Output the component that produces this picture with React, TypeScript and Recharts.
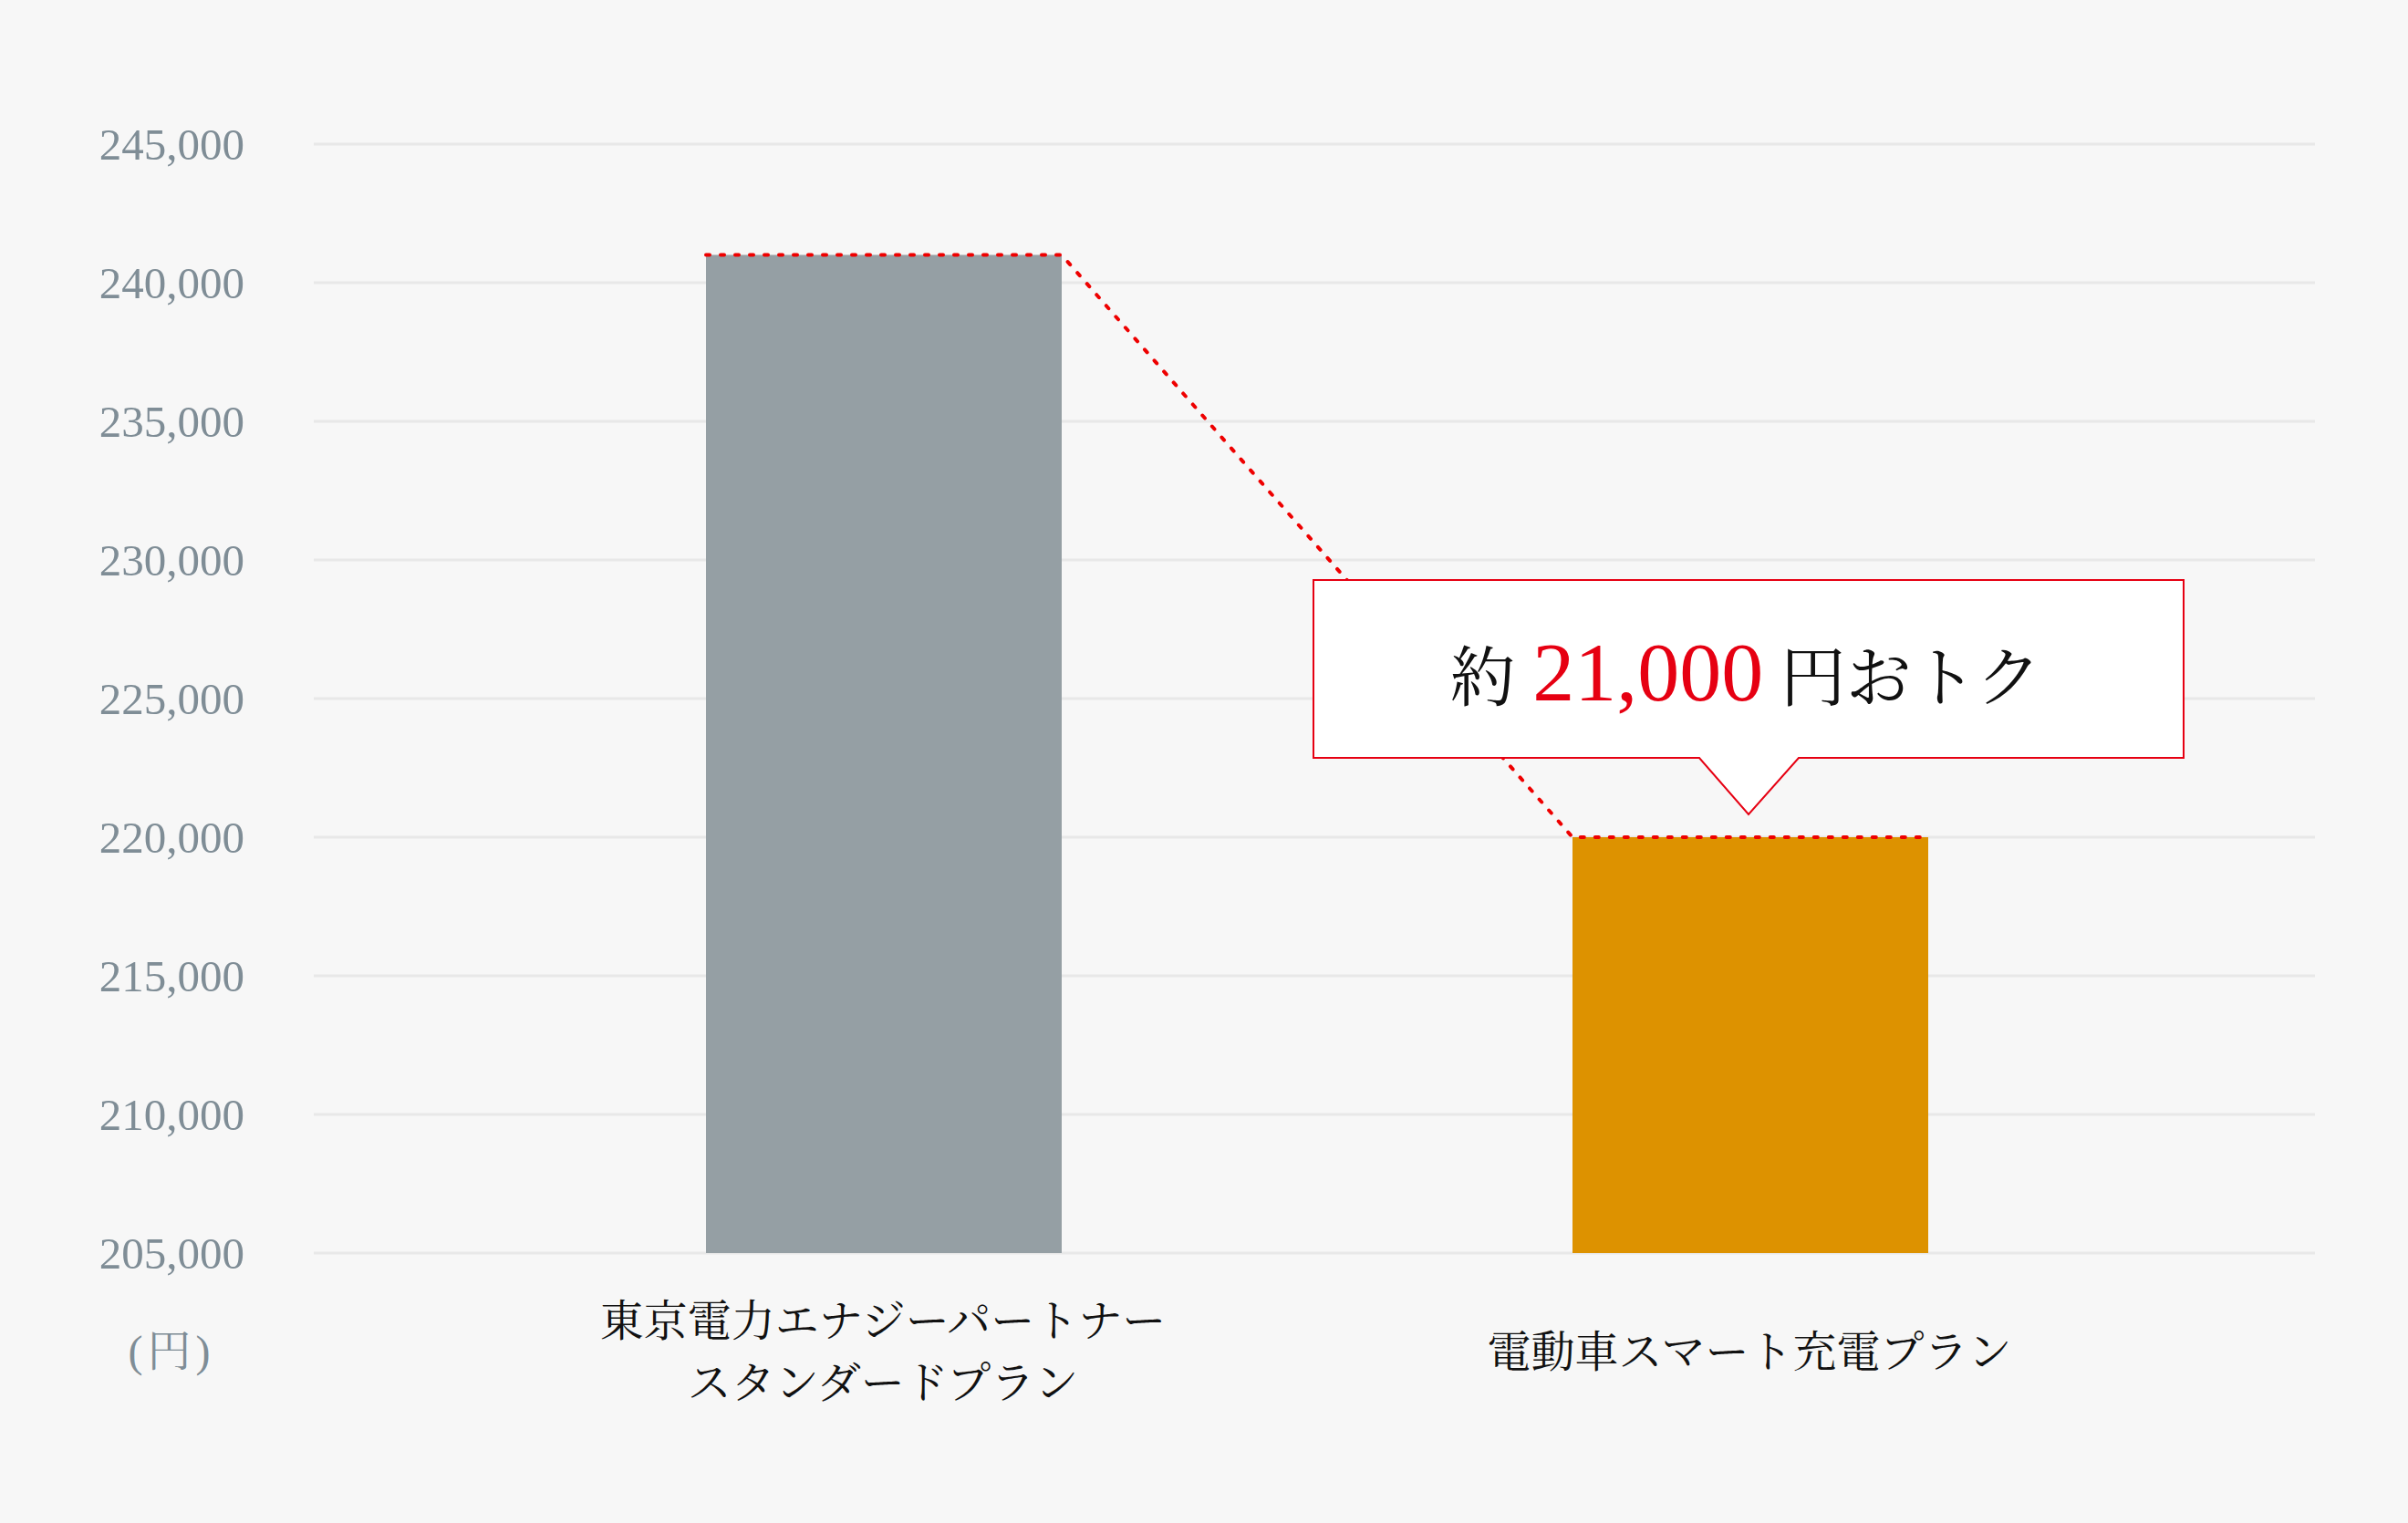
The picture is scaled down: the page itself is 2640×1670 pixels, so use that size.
import React from 'react';
import { BarChart, Bar, XAxis, YAxis, CartesianGrid, Cell, ReferenceLine, ReferenceDot } from 'recharts';

// chart values
const categories = ['standard', 'evSmart'];
const categoryLabels = [
  ['東京電力エナジーパートナー', 'スタンダードプラン'],
  ['電動車スマート充電プラン'],
];
const annualCost = [241000, 220000];
const yTicks = [205000, 210000, 215000, 220000, 225000, 230000, 235000, 240000, 245000];
const barColors = ['#959fa4', '#dd9200'];
const calloutParts = ['約 ', '21,000', ' 円おトク'];
const unitLabel = '(円)';

const data = categories.map((name, i) => ({ name, cost: annualCost[i] }));

const SERIF = "'Liberation Serif', 'Noto Serif CJK JP', 'Noto Sans CJK JP', serif";
const JP = "'Noto Serif CJK JP', 'Noto Sans CJK JP', serif";
const RED = '#e60012';
const AXIS_GREY = '#7f8d96';
const BAR_SIZE = 390;

const CategoryTick = (props: any) => {
  const { x, y, payload } = props;
  const idx = categories.indexOf(payload.value);
  const lines = categoryLabels[idx] || [];
  const centerY = y + 104;
  const lineGap = 68;
  return (
    <g>
      {lines.map((line, i) => (
        <text
          key={i}
          x={x - 1}
          y={centerY + (i - (lines.length - 1) / 2) * lineGap}
          textAnchor="middle"
          dominantBaseline="central"
          fill="#111"
          fontSize={48}
          fontFamily={JP}
        >
          {line}
        </text>
      ))}
    </g>
  );
};

// dotted red guide: top of bar 1 -> diagonal -> top of bar 2
const DropLine = (props: any) => {
  const { x1, y1, x2, y2 } = props;
  const h = BAR_SIZE / 2;
  const d = `M${x1 - h},${y1} L${x1 + h},${y1} L${x2 - h},${y2} L${x2 + h},${y2}`;
  return (
    <path
      d={d}
      fill="none"
      stroke="#ee0000"
      strokeWidth={4}
      strokeDasharray="4 12"
      strokeLinecap="round"
    />
  );
};

const Callout = (props: any) => {
  const { cx, cy } = props;
  const left = cx - 479;
  const right = cx + 475;
  const top = cy - 282;
  const bottom = cy - 87;
  const tipY = cy - 25;
  const d = `M${left},${top} H${right} V${bottom} H${cx + 53} L${cx - 2},${tipY} L${cx - 56},${bottom} H${left} Z`;
  return (
    <g>
      <path d={d} fill="#ffffff" stroke={RED} strokeWidth={2} />
      <text
        x={cx - 5}
        y={cy - 150}
        textAnchor="middle"
        fontSize={92}
        fontFamily={SERIF}
        fill="#111"
      >
        <tspan fontFamily={JP} fontSize={72}>{calloutParts[0]}</tspan>
        <tspan fill={RED}>{calloutParts[1]}</tspan>
        <tspan fontFamily={JP} fontSize={72}>{calloutParts[2]}</tspan>
      </text>
    </g>
  );
};

const UnitLabel = (props: any) => {
  const vb = props.viewBox || { x: 0, y: 0, width: 0, height: 0 };
  return (
    <text
      x={188}
      y={vb.y + vb.height + 107}
      textAnchor="middle"
      dominantBaseline="central"
      fill={AXIS_GREY}
      fontSize={48}
      letterSpacing={5}
      fontFamily={SERIF}
    >
      {unitLabel}
    </text>
  );
};

export default function App() {
  return (
    <div style={{ position: 'absolute', left: 0, top: 0, width: 2640, height: 1670, background: '#f7f7f7' }}>
      <BarChart
        width={2640}
        height={1670}
        data={data}
        margin={{ top: 158, right: 102, bottom: 196, left: 0 }}
      >
        <CartesianGrid horizontal vertical={false} stroke="#e8e8e8" strokeWidth={3} />
        <XAxis
          dataKey="name"
          axisLine={false}
          tickLine={false}
          tickSize={0}
          tickMargin={0}
          height={100}
          padding={{ left: 150, right: 144 }}
          interval={0}
          tick={<CategoryTick />}
        />
        <YAxis
          domain={[205000, 245000]}
          ticks={yTicks}
          width={344}
          axisLine={false}
          tickLine={false}
          tickSize={0}
          tickMargin={76}
          allowDataOverflow
          tickFormatter={(v: number) => v.toLocaleString('en-US')}
          tick={{ fill: AXIS_GREY, fontSize: 49, fontFamily: SERIF }}
          label={<UnitLabel />}
        />
        <Bar dataKey="cost" barSize={BAR_SIZE} isAnimationActive={false}>
          {data.map((_, i) => (
            <Cell key={i} fill={barColors[i]} />
          ))}
        </Bar>
        <ReferenceLine
          segment={[
            { x: categories[0], y: annualCost[0] },
            { x: categories[1], y: annualCost[1] },
          ]}
          shape={<DropLine />}
          ifOverflow="visible"
        />
        <ReferenceDot
          x={categories[1]}
          y={annualCost[1]}
          r={1}
          ifOverflow="visible"
          shape={<Callout />}
        />
      </BarChart>
    </div>
  );
}
